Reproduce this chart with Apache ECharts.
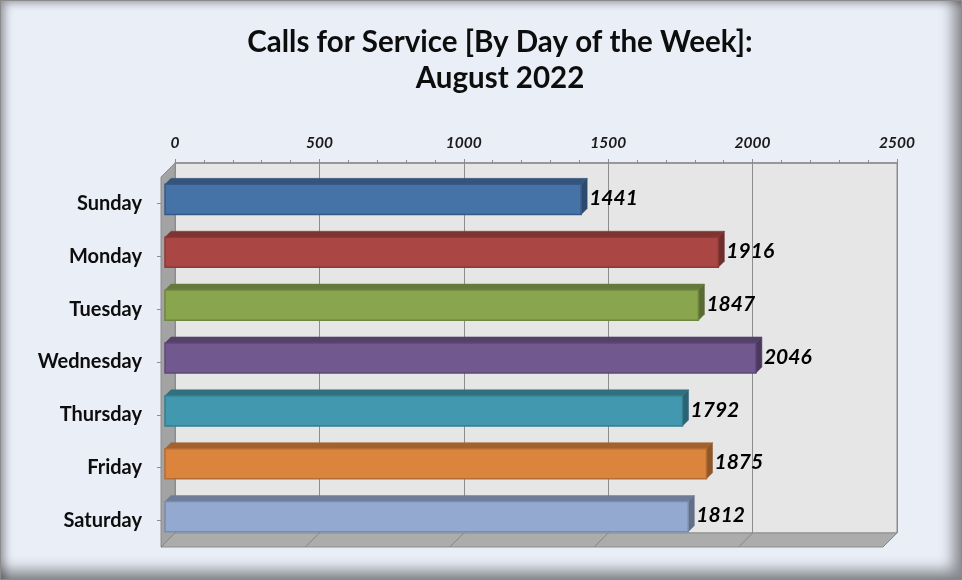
<!DOCTYPE html>
<html>
<head>
<meta charset="utf-8">
<script src="https://cdn.jsdelivr.net/npm/echarts@6/dist/echarts.min.js"></script>
<style>
html,body{margin:0;padding:0;background:#ffffff;}
#frame{position:absolute;left:0;top:0;width:962px;height:580px;background:#eaeef7;
box-shadow: inset 0 0 0 1px #8a8a8a, inset 5px 3px 9px rgba(0,0,0,0.35), inset -9px -10px 14px rgba(0,0,0,0.42);}
#chart{position:absolute;left:0;top:0;width:962px;height:580px;}
</style>
</head>
<body>
<div id="frame"></div>
<div id="chart"></div>
<script>
const titleLines = ['Calls for Service [By Day of the Week]:', 'August 2022'];
const categories = ['Sunday', 'Monday', 'Tuesday', 'Wednesday', 'Thursday', 'Friday', 'Saturday'];
const calls = [1441, 1916, 1847, 2046, 1792, 1875, 1812];
const axisMax = 2500;
const axisStep = 500;

const faceColors = ['#4572a7', '#aa4643', '#89a54e', '#71588f', '#4198af', '#db843d', '#93a9cf'];
const topColors  = ['#34547c', '#7e3432', '#657a3a', '#54416a', '#307081', '#a2622d', '#6d7d99'];
const sideColors = ['#2c4a6e', '#6f2d2b', '#596b33', '#4a395d', '#2a6372', '#8f5628', '#607089'];
const edgeColors = ['#36598a', '#8c3a37', '#6f863f', '#5d4875', '#357d90', '#b56c32', '#7a8cab'];

const DEPTH = 14, FRONT = 10, BACK = 4;
const FONT = 'Lato, "Open Sans", sans-serif';

const chart = echarts.init(document.getElementById('chart'), null, {renderer: 'canvas'});

function frameItem(params, api) {
  const cs = params.coordSys;
  const L = cs.x, T = cs.y, R = cs.x + cs.width, B = cs.y + cs.height;
  const children = [];
  children.push({type: 'polygon', shape: {points: [[L, T], [L, B], [L - DEPTH, B + DEPTH], [L - DEPTH, T + DEPTH]]},
    style: {fill: '#a3a3a3', stroke: '#8c8c8c', lineWidth: 1}});
  children.push({type: 'polygon', shape: {points: [[L, B], [R, B], [R - DEPTH, B + DEPTH], [L - DEPTH, B + DEPTH]]},
    style: {fill: '#acacac', stroke: '#8c8c8c', lineWidth: 1}});
  for (let v = 0; v <= axisMax; v += axisStep) {
    const x = api.coord([v, 0])[0];
    children.push({type: 'line', shape: {x1: x, y1: B, x2: x - DEPTH, y2: B + DEPTH},
      style: {stroke: '#858585', lineWidth: 1}});
  }
  return {type: 'group', children: children};
}

function barItem(params, api) {
  const idx = api.value(0);
  const val = api.value(1);
  const pEnd = api.coord([val, idx]);
  const pStart = api.coord([0, idx]);
  const h = api.size([0, 1])[1] * 0.57;
  const d = FRONT - BACK;
  const x0 = pStart[0] - FRONT, x1 = pEnd[0] - FRONT;
  const yc = pEnd[1] + FRONT;
  const yt = yc - h / 2, yb = yc + h / 2;
  const i = params.dataIndex;
  return {type: 'group', children: [
    {type: 'polygon', shape: {points: [[x0, yt], [x1, yt], [x1 + d, yt - d], [x0 + d, yt - d]]},
      style: {fill: topColors[i], stroke: topColors[i], lineWidth: 0.5}},
    {type: 'polygon', shape: {points: [[x1, yt], [x1 + d, yt - d], [x1 + d, yb - d], [x1, yb]]},
      style: {fill: sideColors[i], stroke: sideColors[i], lineWidth: 0.5}},
    {type: 'rect', shape: {x: x0, y: yt, width: x1 - x0, height: h},
      style: {fill: faceColors[i], stroke: edgeColors[i], lineWidth: 1.5}},
    {type: 'text', style: {x: x1 + d + 2, y: yc - 1, text: String(val), fill: '#000',
      font: 'italic bold 21px ' + FONT, textAlign: 'left', textVerticalAlign: 'middle'}}
  ]};
}

const barData = calls.map((v, i) => [i, v]);

chart.setOption({
  backgroundColor: 'transparent',
  animation: false,
  title: {
    text: titleLines.join('\n'),
    left: 495, top: 19, textAlign: 'center',
    textStyle: {fontFamily: FONT, fontWeight: 'bold', fontSize: 29.5, lineHeight: 36, color: '#0d0d0d'}
  },
  grid: [
    {left: 175, top: 163, width: 722, height: 370, show: true, backgroundColor: '#e6e6e6',
      borderColor: '#8c8c8c', borderWidth: 1},
    {left: 161, top: 177, width: 722, height: 370, show: false}
  ],
  xAxis: [
    {gridIndex: 0, type: 'value', position: 'top', min: 0, max: axisMax, interval: axisStep,
      axisLine: {show: true, lineStyle: {color: '#8c8c8c', width: 1.5}},
      axisTick: {show: true, length: 4, lineStyle: {color: '#8c8c8c'}},
      minorTick: {show: true, splitNumber: 5, length: 3, lineStyle: {color: '#8c8c8c'}},
      splitLine: {show: true, lineStyle: {color: '#8c8c8c', width: 1}},
      axisLabel: {margin: 12, formatter: v => String(v), fontFamily: FONT, fontStyle: 'italic', fontWeight: 'bold', fontSize: 15.5, color: '#1a1a1a'}},
    {gridIndex: 1, type: 'value', min: 0, max: axisMax, show: false}
  ],
  yAxis: [
    {gridIndex: 0, type: 'category', data: categories, inverse: true, show: false},
    {gridIndex: 1, type: 'category', data: categories, inverse: true,
      axisLine: {show: true, lineStyle: {color: '#8c8c8c', width: 1}},
      axisTick: {show: true, alignWithLabel: true, length: 4, lineStyle: {color: '#8c8c8c'}},
      splitLine: {show: false},
      axisLabel: {margin: 19, fontFamily: FONT, fontWeight: 'bold', fontSize: 20, color: '#0d0d0d'}}
  ],
  series: [
    {type: 'custom', xAxisIndex: 0, yAxisIndex: 0, renderItem: frameItem, data: [[0, 0]], z: 1, silent: true},
    {type: 'custom', xAxisIndex: 0, yAxisIndex: 0, renderItem: barItem, data: barData, z: 3,
      encode: {x: 1, y: 0}}
  ]
});
</script>
</body>
</html>
